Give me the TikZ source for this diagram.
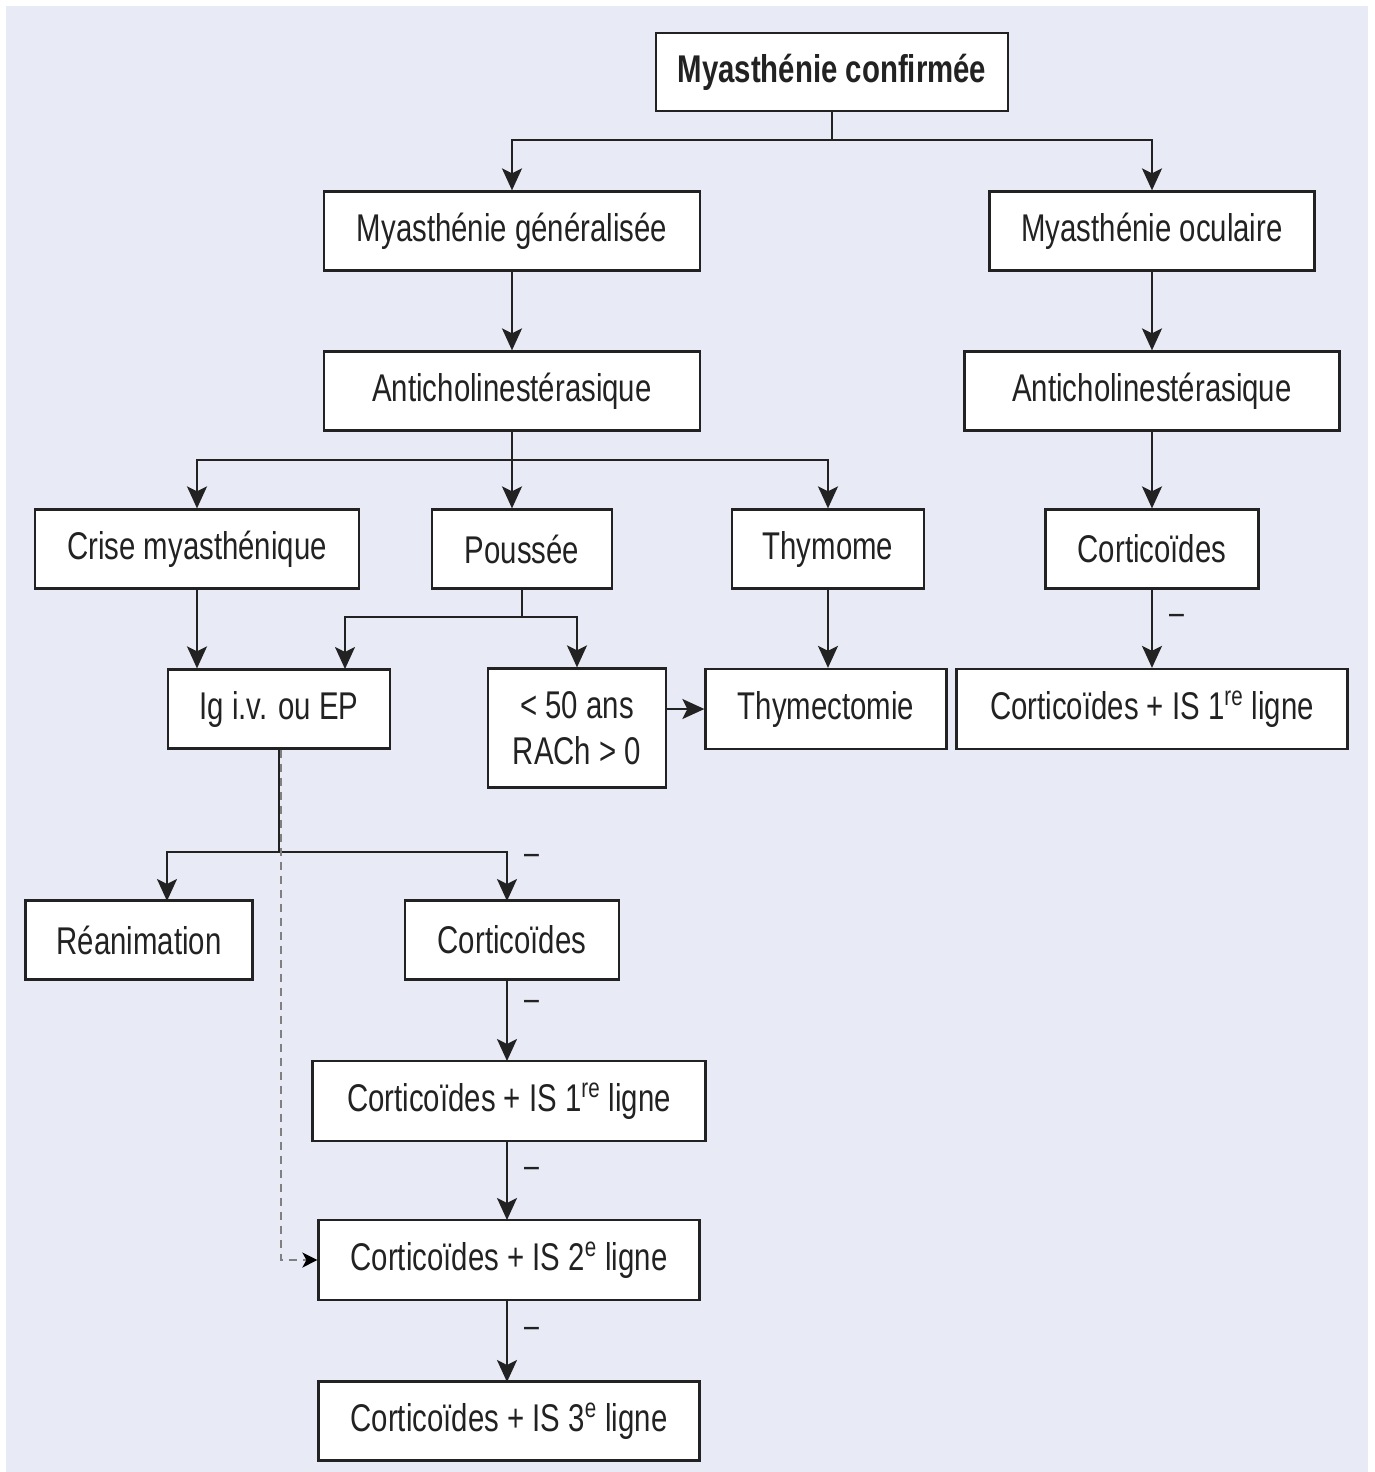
\documentclass[tikz,border=0pt]{standalone}
\usepackage{fontspec}
\setmainfont[FakeStretch=0.76]{Liberation Sans}
\usetikzlibrary{arrows.meta,calc}

\definecolor{fond}{HTML}{E8EAF5}
\definecolor{trait}{HTML}{222222}

\tikzset{
  boite/.style={draw=trait, fill=white, line width=1.3pt, minimum height=1.58cm,
    inner sep=0pt, text=trait, font=\fontsize{22}{26}\selectfont},
  fleche/.style={draw=trait, line width=1.2pt,
    -{Stealth[length=0.44cm,width=0.4cm,inset=0.1cm]}},
  lien/.style={draw=trait, line width=1.2pt},
  pointille/.style={draw=black!50, line width=1.1pt, dash pattern=on 0.16cm off 0.12cm,
    -{Stealth[length=0.3cm,width=0.3cm,inset=0.08cm,black]}},
  moins/.style={anchor=west, xshift=0.32cm, inner sep=0pt, text=trait,
    font=\fontsize{20}{24}\selectfont},
}

\begin{document}
\begin{tikzpicture}[x=0.02cm, y=-0.02cm]
  % fond
  \useasboundingbox (0,0) rectangle (1375,1472);
  \fill[fond] (6,6) rectangle (1368,1472);

  % ligne du haut
  \node[boite, minimum width=7.04cm, minimum height=1.56cm] (conf) at (832,72) {\bfseries Myasthénie confirmée};
  \node[boite, minimum width=7.52cm] (gen) at (512,231) {Myasthénie généralisée};
  \node[boite, minimum width=6.5cm] (ocu) at (1152,231) {Myasthénie oculaire};
  \node[boite, minimum width=7.52cm] (anti1) at (512,391) {Anticholinestérasique};
  \node[boite, minimum width=7.5cm] (anti2) at (1152,391) {Anticholinestérasique};

  % milieu
  \node[boite, minimum width=6.48cm] (crise) at (197,549) {Crise myasthénique};
  \node[boite, minimum width=3.6cm] (pous) at (522,549) {Poussée};
  \node[boite, minimum width=3.84cm] (thym) at (828,549) {Thymome};
  \node[boite, minimum width=4.26cm] (cort2) at (1152,549) {Corticoïdes};
  \node[boite, minimum width=4.44cm] (ig) at (279,709) {Ig i.v. ou EP};
  \node[boite, minimum width=3.56cm, minimum height=2.38cm, align=center] (age) at (577,728)
    {< 50 ans\\RACh > 0};
  \node[boite, minimum width=4.82cm, minimum height=1.6cm] (thymec) at (826,709) {Thymectomie};
  \node[boite, minimum width=7.82cm, minimum height=1.6cm] (is1d) at (1152,709)
    {Corticoïdes + IS 1\textsuperscript{re} ligne};

  % bas
  \node[boite, minimum width=4.54cm] (rea) at (139,940) {Réanimation};
  \node[boite, minimum width=4.28cm] (cortm) at (512,940) {Corticoïdes};
  \node[boite, minimum width=7.86cm, minimum height=1.6cm] (is1) at (509,1101)
    {Corticoïdes + IS 1\textsuperscript{re} ligne};
  \node[boite, minimum width=7.62cm, minimum height=1.6cm] (is2) at (509,1260)
    {Corticoïdes + IS 2\textsuperscript{e} ligne};
  \node[boite, minimum width=7.62cm] (is3) at (509,1421)
    {Corticoïdes + IS 3\textsuperscript{e} ligne};

  % points de branchement
  \coordinate (jconf) at (832,140);
  \coordinate (janti) at (512,460);
  \coordinate (jpous) at (522,617);
  \coordinate (jig) at (279,852);

  % liaisons
  \draw[lien] (conf.south) -- (jconf);
  \draw[fleche] (jconf) -| (gen.north);
  \draw[fleche] (jconf) -| (ocu.north);
  \draw[fleche] (gen) -- (anti1);
  \draw[fleche] (ocu) -- (anti2);

  \draw[fleche] (anti1.south) -- (anti1.south |- pous.north);
  \draw[fleche] (janti) -| (crise.north);
  \draw[fleche] (janti) -| (thym.north);
  \draw[fleche] (anti2) -- (cort2);
  \draw[fleche] (cort2) -- node[moins, pos=0.38] {–} (is1d);

  \draw[fleche] (crise.south) -- (crise.south |- ig.north);
  \draw[lien] (pous.south) -- (jpous);
  \draw[fleche] (jpous) -| (345,669);
  \draw[fleche] (jpous) -| (age.north);
  \draw[fleche] (thym.south) -- (thym.south |- thymec.north);
  \draw[fleche] (age.east |- thymec.west) -- (thymec.west);

  \draw[lien] (ig.south) -- (jig);
  \draw[fleche] (jig) -| (167,901);
  \draw[fleche] (jig) -| node[moins, pos=0.58] {–} (507,901);
  \draw[pointille] ([xshift=0.04cm]ig.south) |- (is2.west);

  \draw[fleche] (507,979) -- node[moins, pos=0.32] {–} (507,1061);
  \draw[fleche] (507,1141) -- node[moins, pos=0.4] {–} (507,1220);
  \draw[fleche] (507,1300) -- node[moins, pos=0.4] {–} (507,1382);
\end{tikzpicture}
\end{document}
